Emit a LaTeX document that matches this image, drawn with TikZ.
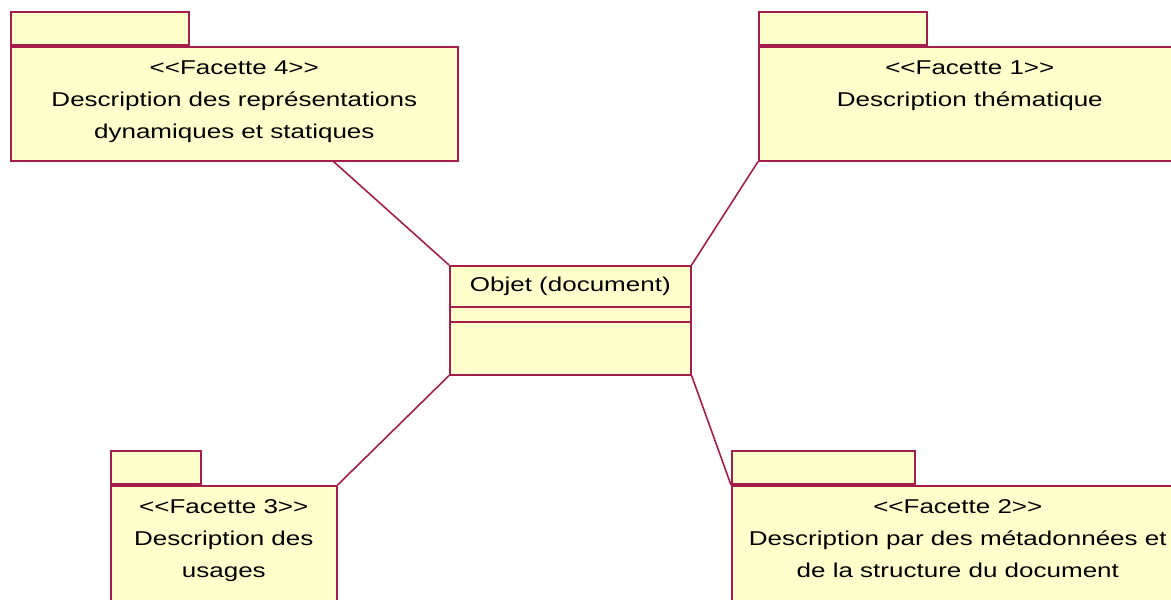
\documentclass[tikz,border=0pt]{standalone}
\usepackage{fontspec}
\setmainfont{Liberation Sans}[FakeStretch=1.3]
\usetikzlibrary{positioning}
\definecolor{umlline}{RGB}{165,30,75}
\definecolor{umlfill}{RGB}{255,255,204}
\newcommand{\stereo}[1]{<{}<#1>{}>}
\begin{document}
\begin{tikzpicture}[x=0.5pt,y=-0.5pt,
    pkgbody/.style={draw=umlline, fill=umlfill, line width=0.8pt, rectangle, inner sep=0pt, anchor=north west},
    pkgtab/.style={draw=umlline, fill=umlfill, line width=0.8pt, rectangle, inner sep=0pt, minimum height=16.5pt},
    pkgtext/.style={align=center, inner sep=0pt, font=\fontsize{10}{16}\selectfont},
    assoc/.style={draw=umlline, line width=0.8pt}]
\useasboundingbox (0,0) rectangle (1171,599);
\clip (0,0) rectangle (1171,599);
% the four facets
\node[pkgbody, minimum width=223.5pt, minimum height=57pt] (F4) at (10,46) {};
\node[pkgtab, minimum width=89pt, above right=0pt and 0pt of F4.north west] (F4tab) {};
\node[pkgtext, below=7pt of F4.north] (F4txt) {\stereo{Facette 4}\\Description des représentations\\dynamiques et statiques};
\node[pkgbody, minimum width=211pt, minimum height=57pt] (F1) at (758,46) {};
\node[pkgtab, minimum width=84pt, above right=0pt and 0pt of F1.north west] (F1tab) {};
\node[pkgtext, below=7pt of F1.north] (F1txt) {\stereo{Facette 1}\\Description thématique};
\node[pkgbody, minimum width=113pt, minimum height=70pt] (F3) at (110,485) {};
\node[pkgtab, minimum width=45pt, above right=0pt and 0pt of F3.north west] (F3tab) {};
\node[pkgtext, below=7pt of F3.north] (F3txt) {\stereo{Facette 3}\\Description des\\usages};
\node[pkgbody, minimum width=226pt, minimum height=70pt] (F2) at (731,485) {};
\node[pkgtab, minimum width=91.5pt, above right=0pt and 0pt of F2.north west] (F2tab) {};
\node[pkgtext, below=7pt of F2.north] (F2txt) {\stereo{Facette 2}\\Description par des métadonnées et\\de la structure du document};
% the class
\node[pkgbody, minimum width=120.5pt, minimum height=54.5pt] (obj) at (449,265) {};
\node[pkgtext, below=6pt of obj.north] (objtxt) {Objet (document)};
\draw[umlline, line width=0.8pt] ([yshift=-21pt]obj.north west) -- ([yshift=-21pt]obj.north east);
\draw[umlline, line width=0.8pt] ([yshift=-28.5pt]obj.north west) -- ([yshift=-28.5pt]obj.north east);
% links
\draw[assoc] ([xshift=-62.5pt]F4.south east) -- (obj.north west);
\draw[assoc] (F1.south west) -- (obj.north east);
\draw[assoc] (F3.north east) -- (obj.south west);
\draw[assoc] (obj.south east) -- (F2.north west);
\end{tikzpicture}
\end{document}
